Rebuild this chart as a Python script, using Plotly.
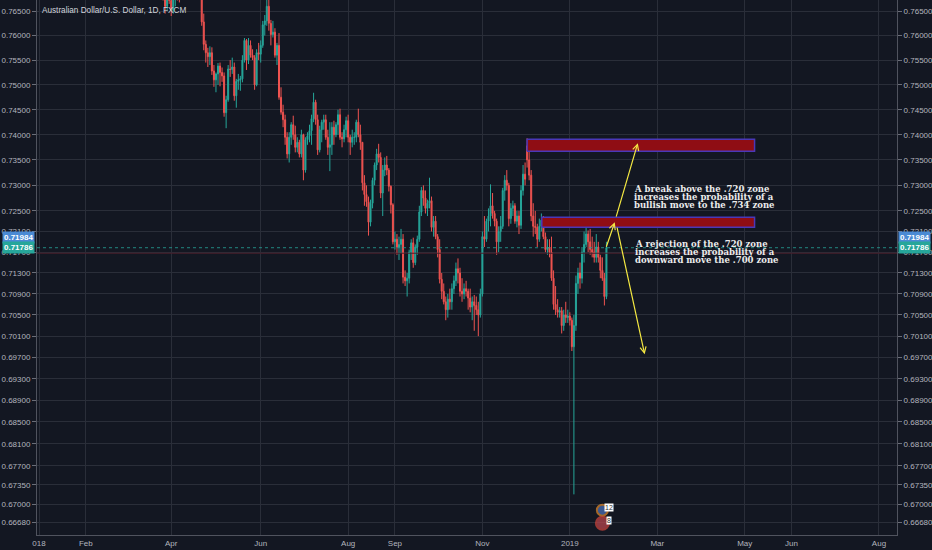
import math
import pandas as pd
import plotly.graph_objects as go

# AUD/USD daily (FXCM), 2018-03-26 .. 2019-01-25, one row of values per month
opens = [
    0.7715, 0.7720, 0.7685, 0.7660, 0.7680,
    0.7672, 0.7652, 0.7682, 0.7705, 0.7690, 0.7680, 0.7705, 0.7760, 0.7770, 0.7752, 0.7758, 0.7776, 0.7788, 0.7778, 0.7740, 0.7685, 0.7628, 0.7582, 0.7565, 0.7557, 0.7565,
    0.7528, 0.7510, 0.7522, 0.7538, 0.7525, 0.7518, 0.7444, 0.7470, 0.7532, 0.7531, 0.7536, 0.7478, 0.7507, 0.7510, 0.7512, 0.7550, 0.7590, 0.7550, 0.7580, 0.7560, 0.7555, 0.7500, 0.7565,
    0.7562, 0.7580, 0.7622, 0.7630, 0.7660, 0.7625, 0.7602, 0.7607, 0.7560, 0.7580, 0.7475, 0.7445, 0.7430, 0.7395, 0.7362, 0.7395, 0.7420, 0.7400, 0.7375, 0.7385, 0.7362,
    0.7400, 0.7330, 0.7390, 0.7398, 0.7408, 0.7432, 0.7465, 0.7430, 0.7370, 0.7410, 0.7425, 0.7430, 0.7395, 0.7375, 0.7380, 0.7415, 0.7400, 0.7420, 0.7440, 0.7395, 0.7392, 0.7410,
    0.7428, 0.7395, 0.7385, 0.7395, 0.7395, 0.7425, 0.7400, 0.7385, 0.7305, 0.7282, 0.7268, 0.7228, 0.7265, 0.7310, 0.7340, 0.7362, 0.7355, 0.7285, 0.7330, 0.7340, 0.7330, 0.7298, 0.7262,
    0.7190, 0.7195, 0.7180, 0.7185, 0.7195, 0.7122, 0.7115, 0.7120, 0.7170, 0.7188, 0.7150, 0.7180, 0.7195, 0.7248, 0.7290, 0.7275, 0.7255, 0.7265, 0.7270, 0.7218,
    0.7230, 0.7200, 0.7175, 0.7118, 0.7095, 0.7075, 0.7060, 0.7080, 0.7075, 0.7100, 0.7115, 0.7138, 0.7130, 0.7095, 0.7090, 0.7100, 0.7095, 0.7082, 0.7065, 0.7075, 0.7068, 0.7060, 0.7050,
    0.7090, 0.7200, 0.7195, 0.7230, 0.7240, 0.7260, 0.7245, 0.7230, 0.7190, 0.7210, 0.7220, 0.7290, 0.7310, 0.7300, 0.7235, 0.7255, 0.7260, 0.7230, 0.7240, 0.7222, 0.7290, 0.7322,
    0.7378, 0.7350, 0.7320, 0.7240, 0.7220, 0.7218, 0.7195, 0.7220, 0.7232, 0.7200, 0.7175, 0.7180, 0.7170, 0.7120, 0.7070, 0.7060, 0.7055, 0.7058, 0.7030, 0.7050, 0.7045,
    0.7048, 0.7040, 0.6990, 0.7030, 0.7110, 0.7130, 0.7120, 0.7170, 0.7185, 0.7205, 0.7190, 0.7175, 0.7170, 0.7160, 0.7180, 0.7160, 0.7135, 0.7120, 0.7085,
]
highs = [
    0.7740, 0.7730, 0.7695, 0.7690, 0.7685,
    0.7680, 0.7690, 0.7718, 0.7712, 0.7712, 0.7712, 0.7770, 0.7790, 0.7778, 0.7768, 0.7786, 0.7812, 0.7800, 0.7790, 0.7750, 0.7690, 0.7645, 0.7590, 0.7575, 0.7578, 0.7576,
    0.7540, 0.7525, 0.7544, 0.7545, 0.7535, 0.7525, 0.7478, 0.7540, 0.7550, 0.7555, 0.7545, 0.7512, 0.7522, 0.7518, 0.7560, 0.7595, 0.7593, 0.7595, 0.7590, 0.7572, 0.7560, 0.7572, 0.7585,
    0.7590, 0.7630, 0.7642, 0.7677, 0.7677, 0.7632, 0.7630, 0.7615, 0.7585, 0.7605, 0.7495, 0.7460, 0.7440, 0.7405, 0.7405, 0.7425, 0.7438, 0.7418, 0.7395, 0.7390, 0.7410,
    0.7402, 0.7395, 0.7405, 0.7420, 0.7440, 0.7484, 0.7470, 0.7440, 0.7418, 0.7430, 0.7440, 0.7440, 0.7410, 0.7425, 0.7425, 0.7428, 0.7425, 0.7450, 0.7452, 0.7405, 0.7420, 0.7436,
    0.7440, 0.7400, 0.7410, 0.7405, 0.7430, 0.7452, 0.7420, 0.7385, 0.7320, 0.7300, 0.7278, 0.7272, 0.7315, 0.7345, 0.7372, 0.7382, 0.7365, 0.7340, 0.7355, 0.7358, 0.7334, 0.7300, 0.7265,
    0.7210, 0.7205, 0.7200, 0.7215, 0.7205, 0.7135, 0.7130, 0.7175, 0.7195, 0.7198, 0.7185, 0.7202, 0.7260, 0.7297, 0.7300, 0.7290, 0.7272, 0.7315, 0.7278, 0.7240,
    0.7240, 0.7205, 0.7195, 0.7130, 0.7110, 0.7085, 0.7090, 0.7100, 0.7110, 0.7125, 0.7150, 0.7158, 0.7140, 0.7120, 0.7110, 0.7115, 0.7100, 0.7100, 0.7085, 0.7088, 0.7085, 0.7075, 0.7100,
    0.7210, 0.7240, 0.7235, 0.7255, 0.7302, 0.7285, 0.7250, 0.7235, 0.7220, 0.7240, 0.7295, 0.7320, 0.7330, 0.7305, 0.7265, 0.7270, 0.7265, 0.7250, 0.7250, 0.7300, 0.7340, 0.7345,
    0.7393, 0.7370, 0.7330, 0.7265, 0.7250, 0.7225, 0.7235, 0.7245, 0.7240, 0.7208, 0.7195, 0.7195, 0.7200, 0.7135, 0.7105, 0.7080, 0.7065, 0.7065, 0.7060, 0.7075, 0.7060,
    0.7055, 0.7045, 0.7050, 0.7125, 0.7140, 0.7150, 0.7180, 0.7210, 0.7232, 0.7212, 0.7215, 0.7200, 0.7190, 0.7205, 0.7190, 0.7165, 0.7160, 0.7130, 0.7190,
]
lows = [
    0.7700, 0.7672, 0.7645, 0.7650, 0.7665,
    0.7640, 0.7645, 0.7660, 0.7672, 0.7668, 0.7675, 0.7695, 0.7745, 0.7735, 0.7735, 0.7745, 0.7758, 0.7760, 0.7730, 0.7676, 0.7620, 0.7570, 0.7545, 0.7536, 0.7540, 0.7520,
    0.7496, 0.7485, 0.7500, 0.7497, 0.7506, 0.7436, 0.7413, 0.7466, 0.7516, 0.7522, 0.7468, 0.7454, 0.7490, 0.7488, 0.7505, 0.7545, 0.7530, 0.7542, 0.7555, 0.7550, 0.7490, 0.7497, 0.7550,
    0.7545, 0.7575, 0.7600, 0.7620, 0.7610, 0.7580, 0.7596, 0.7555, 0.7540, 0.7470, 0.7440, 0.7415, 0.7380, 0.7353, 0.7345, 0.7380, 0.7390, 0.7365, 0.7365, 0.7355, 0.7355,
    0.7310, 0.7325, 0.7380, 0.7385, 0.7380, 0.7425, 0.7420, 0.7360, 0.7365, 0.7385, 0.7410, 0.7390, 0.7360, 0.7328, 0.7360, 0.7380, 0.7395, 0.7400, 0.7390, 0.7375, 0.7385, 0.7395,
    0.7385, 0.7360, 0.7375, 0.7380, 0.7385, 0.7395, 0.7370, 0.7290, 0.7260, 0.7258, 0.7202, 0.7220, 0.7255, 0.7300, 0.7330, 0.7345, 0.7275, 0.7240, 0.7318, 0.7320, 0.7288, 0.7245, 0.7185,
    0.7175, 0.7165, 0.7155, 0.7168, 0.7110, 0.7105, 0.7085, 0.7110, 0.7155, 0.7140, 0.7145, 0.7165, 0.7190, 0.7240, 0.7260, 0.7245, 0.7240, 0.7255, 0.7210, 0.7200,
    0.7195, 0.7160, 0.7110, 0.7080, 0.7070, 0.7040, 0.7045, 0.7060, 0.7060, 0.7090, 0.7105, 0.7110, 0.7085, 0.7075, 0.7080, 0.7085, 0.7060, 0.7055, 0.7040, 0.7020, 0.7050, 0.7010, 0.7045,
    0.7085, 0.7180, 0.7190, 0.7210, 0.7220, 0.7235, 0.7220, 0.7165, 0.7170, 0.7190, 0.7215, 0.7270, 0.7290, 0.7220, 0.7225, 0.7240, 0.7225, 0.7218, 0.7205, 0.7215, 0.7280, 0.7300,
    0.7335, 0.7310, 0.7230, 0.7200, 0.7205, 0.7180, 0.7190, 0.7210, 0.7195, 0.7170, 0.7165, 0.7160, 0.7115, 0.7060, 0.7050, 0.7045, 0.7045, 0.7015, 0.7020, 0.7035, 0.7035,
    0.7030, 0.6982, 0.6718, 0.7020, 0.7090, 0.7100, 0.7110, 0.7150, 0.7180, 0.7170, 0.7165, 0.7160, 0.7150, 0.7150, 0.7150, 0.7120, 0.7115, 0.7068, 0.7080,
]
closes = [
    0.7720, 0.7685, 0.7660, 0.7680, 0.7672,
    0.7652, 0.7682, 0.7705, 0.7690, 0.7680, 0.7705, 0.7760, 0.7770, 0.7752, 0.7758, 0.7776, 0.7788, 0.7778, 0.7740, 0.7685, 0.7628, 0.7582, 0.7565, 0.7557, 0.7565, 0.7528,
    0.7510, 0.7522, 0.7538, 0.7525, 0.7518, 0.7444, 0.7470, 0.7532, 0.7531, 0.7536, 0.7478, 0.7507, 0.7510, 0.7512, 0.7550, 0.7590, 0.7550, 0.7580, 0.7560, 0.7555, 0.7500, 0.7565, 0.7562,
    0.7580, 0.7622, 0.7630, 0.7660, 0.7625, 0.7602, 0.7607, 0.7560, 0.7580, 0.7475, 0.7445, 0.7430, 0.7395, 0.7362, 0.7395, 0.7420, 0.7400, 0.7375, 0.7385, 0.7362, 0.7400,
    0.7330, 0.7390, 0.7398, 0.7408, 0.7432, 0.7465, 0.7430, 0.7370, 0.7410, 0.7425, 0.7430, 0.7395, 0.7375, 0.7380, 0.7415, 0.7400, 0.7420, 0.7440, 0.7395, 0.7392, 0.7410, 0.7428,
    0.7395, 0.7385, 0.7395, 0.7395, 0.7425, 0.7400, 0.7385, 0.7305, 0.7282, 0.7268, 0.7228, 0.7265, 0.7310, 0.7340, 0.7362, 0.7355, 0.7285, 0.7330, 0.7340, 0.7330, 0.7298, 0.7262, 0.7190,
    0.7195, 0.7180, 0.7185, 0.7195, 0.7122, 0.7115, 0.7120, 0.7170, 0.7188, 0.7150, 0.7180, 0.7195, 0.7248, 0.7290, 0.7275, 0.7255, 0.7265, 0.7270, 0.7218, 0.7230,
    0.7200, 0.7175, 0.7118, 0.7095, 0.7075, 0.7060, 0.7080, 0.7075, 0.7100, 0.7115, 0.7138, 0.7130, 0.7095, 0.7090, 0.7100, 0.7095, 0.7082, 0.7065, 0.7075, 0.7068, 0.7060, 0.7050, 0.7090,
    0.7200, 0.7195, 0.7230, 0.7240, 0.7260, 0.7245, 0.7230, 0.7190, 0.7210, 0.7220, 0.7290, 0.7310, 0.7300, 0.7235, 0.7255, 0.7260, 0.7230, 0.7240, 0.7222, 0.7290, 0.7322, 0.7312,
    0.7350, 0.7320, 0.7240, 0.7220, 0.7218, 0.7195, 0.7220, 0.7232, 0.7200, 0.7175, 0.7180, 0.7170, 0.7120, 0.7070, 0.7060, 0.7055, 0.7058, 0.7030, 0.7050, 0.7045, 0.7048,
    0.7040, 0.6990, 0.7030, 0.7110, 0.7130, 0.7120, 0.7170, 0.7185, 0.7205, 0.7190, 0.7175, 0.7170, 0.7160, 0.7180, 0.7160, 0.7135, 0.7120, 0.7085, 0.71786,
]
assert len(opens) == len(highs) == len(lows) == len(closes)

dates = pd.bdate_range("2018-03-26", periods=len(closes))

month_ticks = ["2018-01-01", "2018-02-01", "2018-04-02", "2018-06-01", "2018-08-01", "2018-09-03",
               "2018-11-01", "2019-01-01", "2019-03-01", "2019-05-01", "2019-06-03", "2019-08-01"]
month_labels = ["018", "Feb", "Apr", "Jun", "Aug", "Sep", "Nov", "2019", "Mar", "May", "Jun", "Aug"]

price_ticks = [0.765, 0.760, 0.755, 0.750, 0.745, 0.740, 0.735, 0.730, 0.725, 0.721, 0.717, 0.713,
               0.709, 0.705, 0.701, 0.697, 0.693, 0.689, 0.685, 0.681, 0.677, 0.6735, 0.670, 0.6668]

last_price = 0.71786
marked_price = 0.71984
red_line_price = 0.7168

# resistance zones drawn on the chart (from, to, low, high)
zone_top = ["2018-12-03", "2019-05-07 20:00", 0.73673, 0.73911]
zone_mid = ["2018-12-12 05:00", "2019-05-07 20:00", 0.72182, 0.72377]

break_text = ["A break above the .720 zone",
              "increases the probability of a",
              "bullish move to the .734 zone"]
break_y = [0.72930, 0.72768, 0.72606]
reject_text = ["A rejection of the .720 zone",
               "increases the probability of a",
               "downward move the .700 zone"]
reject_y = [0.71855, 0.71700, 0.71547]

# arrows: (tail date, tail price, head date, head price)
arrows = [
    ("2019-01-24 17:00", 0.71777, "2019-01-31 02:00", 0.72280),
    ("2019-01-31 14:00", 0.72359, "2019-02-15 10:00", 0.73833),
    ("2019-02-01 02:00", 0.72202, "2019-02-20 19:00", 0.69760),
]

BG = "#131722"
GRID = "#2a2e39"
AXIS_TXT = "#b2b5be"
UP = "#26a69a"
DOWN = "#ef5350"
lg = math.log10
x_range = ["2017-12-29", "2019-08-13 21:00"]
y_range = [lg(0.6645), lg(0.7673)]

fig = go.Figure()

fig.add_trace(go.Candlestick(
    x=dates, open=opens, high=highs, low=lows, close=closes,
    increasing=dict(line=dict(color=UP, width=1), fillcolor=UP),
    decreasing=dict(line=dict(color=DOWN, width=1), fillcolor=DOWN),
    whiskerwidth=0, hoverinfo="skip", name="AUDUSD",
))

# zones
for z in (zone_top, zone_mid):
    fig.add_trace(go.Scatter(
        x=[z[0], z[1], z[1], z[0], z[0]], y=[z[2], z[2], z[3], z[3], z[2]],
        mode="lines", fill="toself", fillcolor="#8f0d14",
        line=dict(color="#4a38b8", width=1.5), hoverinfo="skip",
    ))

# price lines
fig.add_trace(go.Scatter(x=x_range, y=[red_line_price] * 2, mode="lines",
                         line=dict(color="#4a1f2c", width=1), hoverinfo="skip", yaxis="y2"))
fig.add_trace(go.Scatter(x=x_range, y=[last_price] * 2, mode="lines",
                         line=dict(color=UP, width=1, dash="dot"), opacity=0.8,
                         hoverinfo="skip", yaxis="y2"))

# event flags at the bottom
fig.add_trace(go.Scatter(
    x=["2019-01-23", "2019-01-23"], y=[0.66895, 0.66661], mode="markers",
    marker=dict(size=[11, 13], color=["#4c74c0", "#c0474f"],
                line=dict(color=["#e38b2d", "#d2453c"], width=2)),
    hoverinfo="skip",
))

note_font = dict(family="DejaVu Serif", size=8.5, color="#ececec")
annotations = [
    dict(text="Australian Dollar/U.S. Dollar, 1D, FXCM", xref="paper", yref="paper",
         x=0.004, y=0.981, xanchor="left", yanchor="middle", showarrow=False,
         font=dict(size=8.2, color="#d1d4dc")),
]
for txt, yv in zip(break_text, break_y):
    annotations.append(dict(text="<b>%s</b>" % txt, x="2019-02-12 10:00", y=lg(yv),
                            xanchor="left", yanchor="middle", showarrow=False, font=note_font))
for txt, yv in zip(reject_text, reject_y):
    annotations.append(dict(text="<b>%s</b>" % txt, x="2019-02-12 22:00", y=lg(yv),
                            xanchor="left", yanchor="middle", showarrow=False, font=note_font))
for tx, ty, hx, hy in arrows:
    annotations.append(dict(text="", x=hx, y=lg(hy), ax=tx, ay=lg(ty), axref="x", ayref="y",
                            showarrow=True, arrowhead=5, arrowsize=1, arrowwidth=1.2,
                            arrowcolor="#f4e842"))

# price labels on both scales
for price, color in ((marked_price, "#4a8ad4"), (last_price, UP)):
    for side in (0, 1):
        annotations.append(dict(
            text="<b>%.5f</b>" % price, xref="paper", yref="y", x=side, y=lg(price),
            xanchor="left" if side else "right", yanchor="middle", showarrow=False,
            bgcolor=color, borderpad=1, xshift=1 if side else -2,
            font=dict(size=8, color="white")))

# badges on the flags
for label, yv in (("12", 0.66948), ("8", 0.66714)):
    annotations.append(dict(text=label, x="2019-01-28 07:00", y=lg(yv), showarrow=False,
                            bgcolor="white", borderpad=0, font=dict(size=7, color="#333"),
                            xanchor="center", yanchor="middle"))

y_common = dict(type="log", range=y_range, tickvals=price_ticks, tickformat=".5f",
                ticks="outside", ticklen=4, tickcolor="#6a6d78",
                tickfont=dict(size=8, color=AXIS_TXT), showline=True, linecolor="#50535e",
                zeroline=False, fixedrange=True)

fig.update_layout(
    width=932, height=550,
    margin=dict(l=37, r=35, t=0, b=15),
    paper_bgcolor=BG, plot_bgcolor=BG,
    font=dict(family="Liberation Sans", color=AXIS_TXT),
    showlegend=False,
    xaxis=dict(type="date", range=x_range, rangebreaks=[dict(bounds=["sat", "mon"])],
               rangeslider=dict(visible=False), tickvals=month_ticks, ticktext=month_labels,
               tickfont=dict(size=8, color=AXIS_TXT), ticks="", showgrid=True,
               gridcolor=GRID, showline=True, linecolor="#50535e", zeroline=False),
    yaxis=dict(side="right", showgrid=True, gridcolor=GRID, **y_common),
    yaxis2=dict(side="left", overlaying="y", showgrid=False, **y_common),
    annotations=annotations,
)

fig.write_html("out.html", config={"displayModeBar": False},
               post_script="document.body.style.margin='0';")
